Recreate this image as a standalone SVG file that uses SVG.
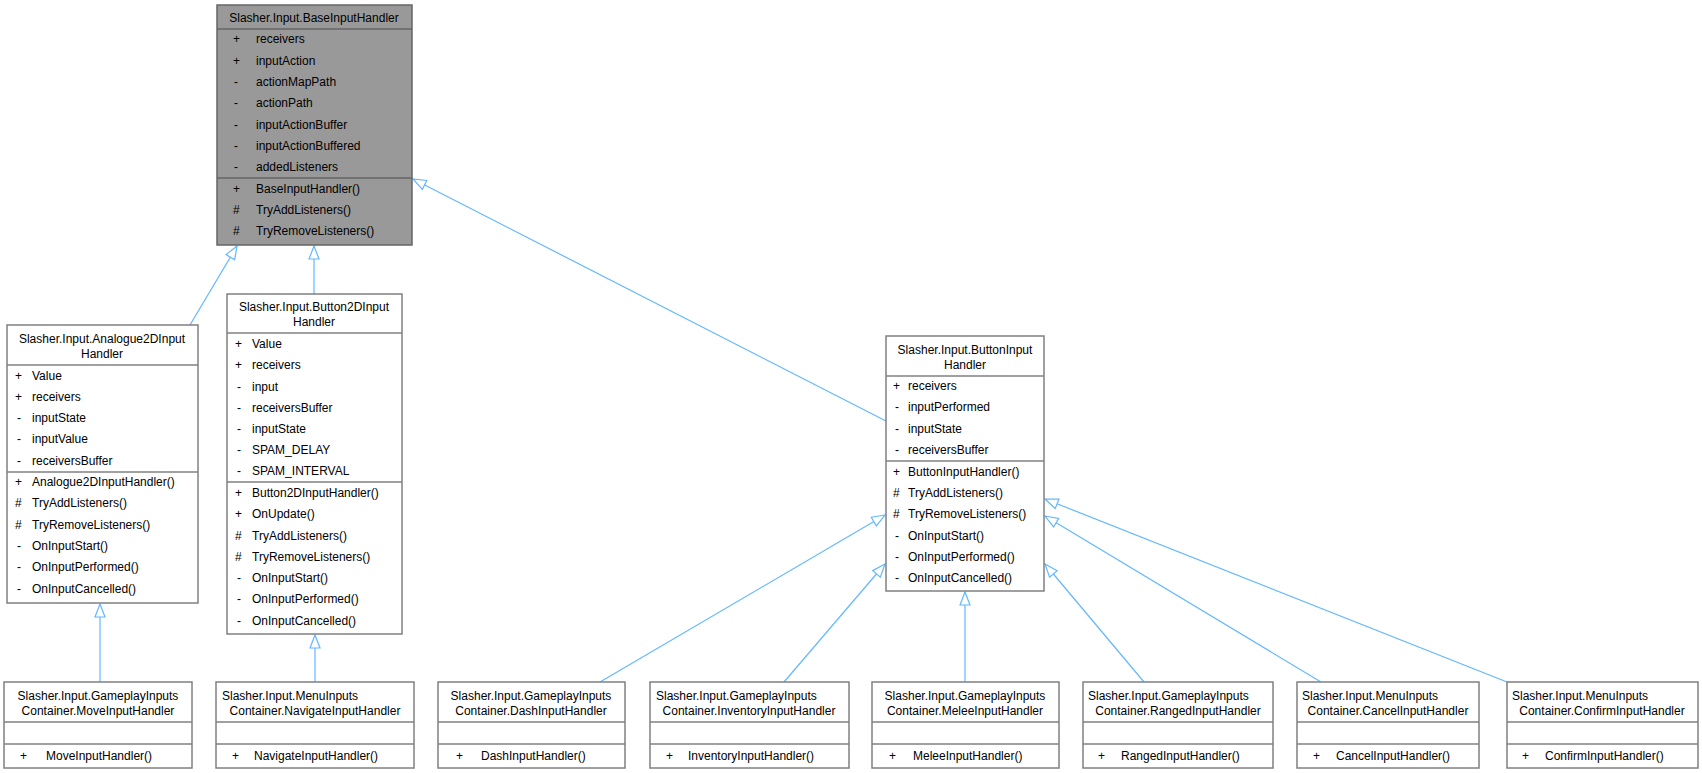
<svg xmlns="http://www.w3.org/2000/svg" width="1702" height="773" viewBox="0 0 1702 773">
<style>
text{font-family:"Liberation Sans",Arial,sans-serif;font-size:12px;fill:#000}
.t{text-anchor:middle}
.box{fill:#fff;stroke:#808080;stroke-width:1.5}
.gbox{fill:#999;stroke:#666;stroke-width:1.5}
.sep{stroke:#808080;stroke-width:1.5}
.gsep{stroke:#666;stroke-width:1.5}
.e{stroke:#63b8ff;stroke-width:1.2;fill:none;marker-end:url(#tri)}
</style>
<defs>
<marker id="tri" markerUnits="userSpaceOnUse" markerWidth="16" markerHeight="12" refX="14" refY="6" orient="auto">
<path d="M1,1 L14,6 L1,11 Z" fill="#fff" stroke="#63b8ff" stroke-width="1.2"/>
</marker>
</defs>
<g id="connectors">
<line class="e" x1="190" y1="325" x2="237" y2="246"/>
<line class="e" x1="314" y1="294" x2="314" y2="246"/>
<line class="e" x1="886" y1="421" x2="413" y2="179"/>
<line class="e" x1="100" y1="682" x2="100" y2="604"/>
<line class="e" x1="315" y1="682" x2="315" y2="635"/>
<line class="e" x1="600" y1="682" x2="885" y2="515"/>
<line class="e" x1="784" y1="682" x2="885" y2="564"/>
<line class="e" x1="965" y1="682" x2="965" y2="592"/>
<line class="e" x1="1144" y1="682" x2="1045" y2="564"/>
<line class="e" x1="1321" y1="682" x2="1045" y2="516"/>
<line class="e" x1="1507" y1="682" x2="1045" y2="499"/>
</g>
<g id="BaseInputHandler">
<rect class="gbox" x="217" y="5" width="195" height="240"/>
<line class="gsep" x1="217" y1="29" x2="412" y2="29"/>
<line class="gsep" x1="217" y1="178" x2="412" y2="178"/>
<text class="t" x="314" y="22">Slasher.Input.BaseInputHandler</text>
<text x="233" y="43">+</text><text x="256" y="43">receivers</text>
<text x="233" y="65">+</text><text x="256" y="65">inputAction</text>
<text x="234" y="86">-</text><text x="256" y="86">actionMapPath</text>
<text x="234" y="107">-</text><text x="256" y="107">actionPath</text>
<text x="234" y="129">-</text><text x="256" y="129">inputActionBuffer</text>
<text x="234" y="150">-</text><text x="256" y="150">inputActionBuffered</text>
<text x="234" y="171">-</text><text x="256" y="171">addedListeners</text>
<text x="233" y="193">+</text><text x="256" y="193">BaseInputHandler()</text>
<text x="233" y="214">#</text><text x="256" y="214">TryAddListeners()</text>
<text x="233" y="235">#</text><text x="256" y="235">TryRemoveListeners()</text>
</g>
<g id="Analogue2DInputHandler">
<rect class="box" x="7" y="325" width="191" height="278"/>
<line class="sep" x1="7" y1="365" x2="198" y2="365"/>
<line class="sep" x1="7" y1="472" x2="198" y2="472"/>
<text class="t" x="102" y="343">Slasher.Input.Analogue2DInput</text>
<text class="t" x="102" y="358">Handler</text>
<text x="15" y="380">+</text><text x="32" y="380">Value</text>
<text x="15" y="401">+</text><text x="32" y="401">receivers</text>
<text x="17" y="422">-</text><text x="32" y="422">inputState</text>
<text x="17" y="443">-</text><text x="32" y="443">inputValue</text>
<text x="17" y="465">-</text><text x="32" y="465">receiversBuffer</text>
<text x="15" y="486">+</text><text x="32" y="486">Analogue2DInputHandler()</text>
<text x="15" y="507">#</text><text x="32" y="507">TryAddListeners()</text>
<text x="15" y="529">#</text><text x="32" y="529">TryRemoveListeners()</text>
<text x="17" y="550">-</text><text x="32" y="550">OnInputStart()</text>
<text x="17" y="571">-</text><text x="32" y="571">OnInputPerformed()</text>
<text x="17" y="593">-</text><text x="32" y="593">OnInputCancelled()</text>
</g>
<g id="Button2DInputHandler">
<rect class="box" x="227" y="294" width="175" height="340"/>
<line class="sep" x1="227" y1="333" x2="402" y2="333"/>
<line class="sep" x1="227" y1="482" x2="402" y2="482"/>
<text class="t" x="314" y="311">Slasher.Input.Button2DInput</text>
<text class="t" x="314" y="326">Handler</text>
<text x="235" y="348">+</text><text x="252" y="348">Value</text>
<text x="235" y="369">+</text><text x="252" y="369">receivers</text>
<text x="237" y="391">-</text><text x="252" y="391">input</text>
<text x="237" y="412">-</text><text x="252" y="412">receiversBuffer</text>
<text x="237" y="433">-</text><text x="252" y="433">inputState</text>
<text x="237" y="454">-</text><text x="252" y="454">SPAM_DELAY</text>
<text x="237" y="475">-</text><text x="252" y="475">SPAM_INTERVAL</text>
<text x="235" y="497">+</text><text x="252" y="497">Button2DInputHandler()</text>
<text x="235" y="518">+</text><text x="252" y="518">OnUpdate()</text>
<text x="235" y="540">#</text><text x="252" y="540">TryAddListeners()</text>
<text x="235" y="561">#</text><text x="252" y="561">TryRemoveListeners()</text>
<text x="237" y="582">-</text><text x="252" y="582">OnInputStart()</text>
<text x="237" y="603">-</text><text x="252" y="603">OnInputPerformed()</text>
<text x="237" y="625">-</text><text x="252" y="625">OnInputCancelled()</text>
</g>
<g id="ButtonInputHandler">
<rect class="box" x="886" y="336" width="158" height="255"/>
<line class="sep" x1="886" y1="376" x2="1044" y2="376"/>
<line class="sep" x1="886" y1="461" x2="1044" y2="461"/>
<text class="t" x="965" y="354">Slasher.Input.ButtonInput</text>
<text class="t" x="965" y="369">Handler</text>
<text x="893" y="390">+</text><text x="908" y="390">receivers</text>
<text x="895" y="411">-</text><text x="908" y="411">inputPerformed</text>
<text x="895" y="433">-</text><text x="908" y="433">inputState</text>
<text x="895" y="454">-</text><text x="908" y="454">receiversBuffer</text>
<text x="893" y="476">+</text><text x="908" y="476">ButtonInputHandler()</text>
<text x="893" y="497">#</text><text x="908" y="497">TryAddListeners()</text>
<text x="893" y="518">#</text><text x="908" y="518">TryRemoveListeners()</text>
<text x="895" y="540">-</text><text x="908" y="540">OnInputStart()</text>
<text x="895" y="561">-</text><text x="908" y="561">OnInputPerformed()</text>
<text x="895" y="582">-</text><text x="908" y="582">OnInputCancelled()</text>
</g>
<g id="MoveInputHandler">
<rect class="box" x="4" y="682" width="188" height="86"/>
<line class="sep" x1="4" y1="722" x2="192" y2="722"/><line class="sep" x1="4" y1="744" x2="192" y2="744"/>
<text class="t" x="98" y="700">Slasher.Input.GameplayInputs</text>
<text class="t" x="98" y="715">Container.MoveInputHandler</text>
<text x="20" y="760">+</text><text x="46" y="760">MoveInputHandler()</text>
</g>
<g id="NavigateInputHandler">
<rect class="box" x="216" y="682" width="198" height="86"/>
<line class="sep" x1="216" y1="722" x2="414" y2="722"/><line class="sep" x1="216" y1="744" x2="414" y2="744"/>
<text x="222" y="700">Slasher.Input.MenuInputs</text>
<text class="t" x="315" y="715">Container.NavigateInputHandler</text>
<text x="232" y="760">+</text><text x="254" y="760">NavigateInputHandler()</text>
</g>
<g id="DashInputHandler">
<rect class="box" x="438" y="682" width="187" height="86"/>
<line class="sep" x1="438" y1="722" x2="625" y2="722"/><line class="sep" x1="438" y1="744" x2="625" y2="744"/>
<text class="t" x="531" y="700">Slasher.Input.GameplayInputs</text>
<text class="t" x="531" y="715">Container.DashInputHandler</text>
<text x="456" y="760">+</text><text x="481" y="760">DashInputHandler()</text>
</g>
<g id="InventoryInputHandler">
<rect class="box" x="650" y="682" width="199" height="86"/>
<line class="sep" x1="650" y1="722" x2="849" y2="722"/><line class="sep" x1="650" y1="744" x2="849" y2="744"/>
<text x="656" y="700">Slasher.Input.GameplayInputs</text>
<text class="t" x="749" y="715">Container.InventoryInputHandler</text>
<text x="666" y="760">+</text><text x="688" y="760">InventoryInputHandler()</text>
</g>
<g id="MeleeInputHandler">
<rect class="box" x="872" y="682" width="187" height="86"/>
<line class="sep" x1="872" y1="722" x2="1059" y2="722"/><line class="sep" x1="872" y1="744" x2="1059" y2="744"/>
<text class="t" x="965" y="700">Slasher.Input.GameplayInputs</text>
<text class="t" x="965" y="715">Container.MeleeInputHandler</text>
<text x="889" y="760">+</text><text x="913" y="760">MeleeInputHandler()</text>
</g>
<g id="RangedInputHandler">
<rect class="box" x="1083" y="682" width="190" height="86"/>
<line class="sep" x1="1083" y1="722" x2="1273" y2="722"/><line class="sep" x1="1083" y1="744" x2="1273" y2="744"/>
<text x="1088" y="700">Slasher.Input.GameplayInputs</text>
<text class="t" x="1178" y="715">Container.RangedInputHandler</text>
<text x="1098" y="760">+</text><text x="1121" y="760">RangedInputHandler()</text>
</g>
<g id="CancelInputHandler">
<rect class="box" x="1297" y="682" width="182" height="86"/>
<line class="sep" x1="1297" y1="722" x2="1479" y2="722"/><line class="sep" x1="1297" y1="744" x2="1479" y2="744"/>
<text x="1302" y="700">Slasher.Input.MenuInputs</text>
<text class="t" x="1388" y="715">Container.CancelInputHandler</text>
<text x="1313" y="760">+</text><text x="1336" y="760">CancelInputHandler()</text>
</g>
<g id="ConfirmInputHandler">
<rect class="box" x="1507" y="682" width="191" height="86"/>
<line class="sep" x1="1507" y1="722" x2="1698" y2="722"/><line class="sep" x1="1507" y1="744" x2="1698" y2="744"/>
<text x="1512" y="700">Slasher.Input.MenuInputs</text>
<text class="t" x="1602" y="715">Container.ConfirmInputHandler</text>
<text x="1522" y="760">+</text><text x="1545" y="760">ConfirmInputHandler()</text>
</g>
</svg>
